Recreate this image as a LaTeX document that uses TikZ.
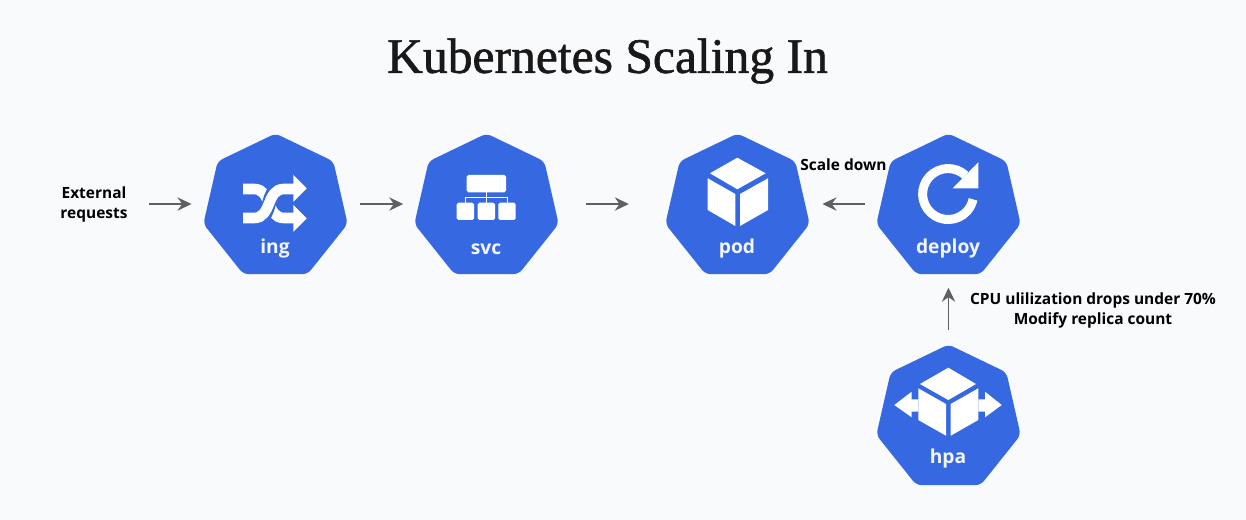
\documentclass[tikz,border=0pt]{standalone}
\usepackage{fontspec}
\setmainfont{Open Sans}
\newfontfamily\titlefont[FakeBold=1.2]{Liberation Serif}
\usepackage{tikz}
\usetikzlibrary{shapes.geometric, arrows.meta}
\definecolor{pagebg}{HTML}{F9FAFC}
\definecolor{kubeblue}{HTML}{3669E1}
\definecolor{flowgray}{HTML}{606060}
\tikzset{
  kube/.style = {fill = kubeblue, regular polygon, regular polygon sides = 7, inner sep = 0, minimum size = 111pt, rounded corners = 4pt},
  kubelabel/.style = {text = white!94!kubeblue, inner sep = 0, font = \fontsize{14.4}{18}\selectfont\bfseries},
  note/.style = {text = black, inner sep = 0, align = center, font = \fontsize{11.6}{15}\selectfont\bfseries},
  flow/.style = {draw = flowgray, line width = 1.35pt, -{Stealth[length = 10.5pt, width = 10pt, inset = 3.5pt]}},
  icon/.style = {fill = white, draw = none}
}

\begin{document}
\begin{tikzpicture}[x = 0.75pt, y = -0.75pt]
    \fill [pagebg] (0, 0) rectangle (1246, 520);
    \useasboundingbox (0, 0) rectangle (1246, 520);

    \node [inner sep = 0, text = black!90, font = \fontsize{37.2}{40}\selectfont\titlefont] (title) at (607.5, 61) {Kubernetes Scaling In};

    \node [kube] (ing) at (275.5, 207.5) {};
    \node [kube] (svc) at (486.5, 207.5) {};
    \node [kube] (pod) at (737.5, 207.5) {};
    \node [kube] (deploy) at (948.5, 207.5) {};
    \node [kube] (hpa) at (948.5, 418.5) {};

    \node [kubelabel] (inglabel) at (275, 249) {ing};
    \node [kubelabel] (svclabel) at (486, 249) {svc};
    \node [kubelabel] (podlabel) at (737, 249) {pod};
    \node [kubelabel] (deploylabel) at (948, 249) {deploy};
    \node [kubelabel] (hpalabel) at (948, 459) {hpa};

    \node [note] (external) at (94, 204) {External\\requests};
    \node [note] (scaledown) at (843.5, 165) {Scale down};
    \node [note] (cpunote) at (1093, 310.5) {CPU ulilization drops under 70\%\\Modify replica count};

    \draw [flow, shorten <= 16pt, shorten >= 11.5pt] (external.east) -- ([yshift = 2.6pt]ing.west);
    \draw [flow, shorten <= 12pt, shorten >= 11pt] ([yshift = 2.6pt]ing.east) -- ([yshift = 2.6pt]svc.west);
    \draw [flow, shorten <= 23.5pt, shorten >= 30pt] ([yshift = 2.6pt]svc.east) -- ([yshift = 2.6pt]pod.west);
    \draw [flow, shorten <= 11.25pt, shorten >= 12.25pt] ([yshift = 2.6pt]deploy.west) -- ([yshift = 2.6pt]pod.east);
    \draw [flow, shorten <= 10.5pt, shorten >= 10pt] (hpa.north) -- (deploy.south);

    % ing
    \draw [white, line width = 8pt] (243, 189) -- (254, 189) .. controls (272, 189) and (266, 218) .. (284, 218) -- (295, 218);
    \draw [kubeblue, line width = 10.5pt] (258, 218) .. controls (272, 218) and (266, 189) .. (280, 189);
    \draw [white, line width = 8pt] (243, 218) -- (254, 218) .. controls (272, 218) and (266, 189) .. (284, 189) -- (295, 189);
    \fill [icon] (293.3, 175) -- (306.7, 188.3) -- (293.3, 201.7) -- cycle;
    \fill [icon] (293.3, 205) -- (306.7, 218.3) -- (293.3, 231.7) -- cycle;

    % svc
    \draw [white, line width = 1pt] (486.3, 190) -- (486.3, 205);
    \draw [white, line width = 1pt] (465.3, 205) -- (465.3, 197.3) -- (507.3, 197.3) -- (507.3, 205);
    \fill [icon, rounded corners = 1.2pt] (466.7, 175) rectangle (506, 192.3);
    \fill [icon, rounded corners = 1.2pt] (456.7, 202.7) rectangle (474, 220);
    \fill [icon, rounded corners = 1.2pt] (477.7, 202.7) rectangle (495, 220);
    \fill [icon, rounded corners = 1.2pt] (498.3, 202.7) rectangle (515.7, 220);

    % pod
    \fill [icon] (737.3, 157.7) -- (765.7, 173.3) -- (737.3, 189.3) -- (710, 173.3) -- cycle;
    \fill [icon] (707.7, 178.3) -- (735.3, 194) -- (735.3, 226) -- (707.7, 210) -- cycle;
    \fill [icon] (768, 178.3) -- (740, 194) -- (740, 226) -- (768, 210) -- cycle;

    % deploy
    \draw [white, line width = 6.75pt] (965.5, 175.4) arc [start angle = -47, end angle = -348, radius = 25.5];
    \fill [icon] (978.3, 162.3) -- (978.3, 188.3) -- (952.7, 188.3) -- cycle;

    % hpa
    \fill [icon] (948.3, 367.7) -- (976, 384) -- (948.3, 400) -- (920, 384) -- cycle;
    \fill [icon] (918.3, 388.3) -- (946, 404) -- (946, 435.7) -- (918.3, 420) -- cycle;
    \fill [icon] (978.3, 388.3) -- (950.7, 404) -- (950.7, 435.7) -- (978.3, 420) -- cycle;
    \fill [icon] (894.3, 405) -- (911.7, 391.7) -- (911.7, 399.3) -- (918.3, 399.3) -- (918.3, 411.7) -- (911.7, 411.7) -- (911.7, 417.3) -- cycle;
    \fill [icon] (1001.7, 405) -- (985, 391.7) -- (985, 399.3) -- (978.3, 399.3) -- (978.3, 411.7) -- (985, 411.7) -- (985, 417.3) -- cycle;
\end{tikzpicture}
\end{document}
